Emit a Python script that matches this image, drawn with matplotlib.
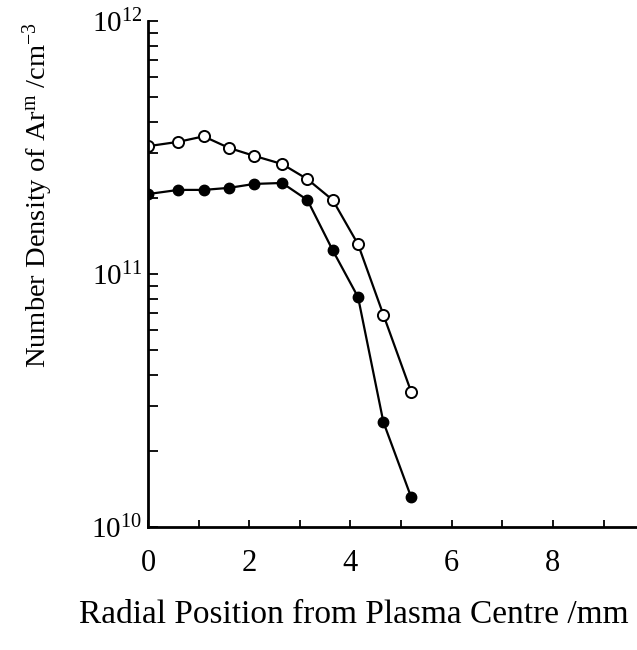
import matplotlib
matplotlib.use('Agg')
import matplotlib.pyplot as plt
from matplotlib.ticker import MultipleLocator, LogLocator, NullFormatter

# radial position (mm) and number density (cm^-3)
x_open = [0.0, 0.6, 1.1, 1.6, 2.1, 2.65, 3.15, 3.65, 4.15, 4.65, 5.2]
y_open = [3.2e11, 3.33e11, 3.5e11, 3.15e11, 2.93e11, 2.72e11, 2.37e11,
          1.96e11, 1.31e11, 6.9e10, 3.42e10]

x_fill = [0.0, 0.6, 1.1, 1.6, 2.1, 2.65, 3.15, 3.65, 4.15, 4.65, 5.2]
y_fill = [2.07e11, 2.15e11, 2.15e11, 2.19e11, 2.27e11, 2.29e11, 1.96e11,
          1.24e11, 8.1e10, 2.6e10, 1.31e10]

plt.rcParams['font.family'] = ['Liberation Serif', 'DejaVu Serif']
plt.rcParams['mathtext.fontset'] = 'custom'
plt.rcParams['mathtext.rm'] = 'Liberation Serif'
plt.rcParams['mathtext.it'] = 'Liberation Serif'

fig = plt.figure(figsize=(6.37, 6.5), dpi=100)
ax = fig.add_axes([0.2323, 0.1892, 0.7677, 0.7785])

ax.plot(x_open, y_open, c='black', lw=1.6, marker='o', ms=8,
        mfc='white', mec='black', mew=1.4)
ax.plot(x_fill, y_fill, c='black', lw=1.6, marker='o', ms=7.5,
        mfc='black', mec='black')

ax.set_yscale('log')
ax.set_ylim(1e10, 1e12)
ax.set_xlim(0, 9.66)

ax.xaxis.set_major_locator(MultipleLocator(2))
ax.xaxis.set_minor_locator(MultipleLocator(1))
ax.yaxis.set_major_locator(LogLocator(base=10))
ax.yaxis.set_minor_locator(LogLocator(base=10, subs=range(2, 10)))
ax.yaxis.set_minor_formatter(NullFormatter())

ax.tick_params(which='both', direction='in', width=1.3)
ax.tick_params(axis='y', which='both', length=7, pad=4, labelsize=21)
ax.tick_params(axis='x', which='both', length=5, pad=16, labelsize=22)

for s in ['top', 'right']:
    ax.spines[s].set_visible(False)
for s in ['left', 'bottom']:
    ax.spines[s].set_linewidth(2)

fig.text(0.555, 0.054, 'Radial Position from Plasma Centre /mm',
         ha='center', va='center', fontsize=24)
fig.text(0.06, 0.70, r'Number Density of Ar$^{\rm m}$ /cm$^{-3}$',
         ha='center', va='center', rotation=90, fontsize=20.5)

fig.savefig('out.png', dpi=100)
